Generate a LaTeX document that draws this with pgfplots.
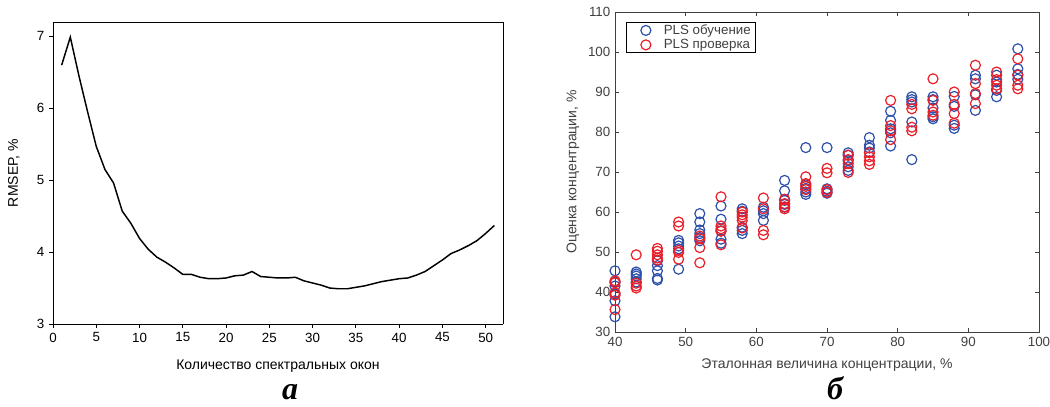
\documentclass[border=0pt]{standalone}
\usepackage{fontspec}
\setmainfont{Liberation Sans}
\newfontfamily\capfont{Liberation Serif}
\usepackage{pgfplots}
\pgfplotsset{compat=1.18}
\definecolor{plsblue}{RGB}{45,80,170}
\definecolor{plsred}{RGB}{235,30,40}
\definecolor{mgray}{RGB}{64,64,64}

\begin{document}
\begin{tikzpicture}[x=1pt,y=1pt]
\path[use as bounding box] (0,0) rectangle (787.5,305.25);

% --- panel a: RMSEP vs number of windows
\begin{axis}[
    at={(39.75pt,62.25pt)}, anchor=south west,
    scale only axis, width=337.5pt, height=226.5pt,
    xmin=0, xmax=52, ymin=3, ymax=7.2,
    xtick={0,5,...,50}, ytick={3,4,5,6,7},
    axis x line*=bottom, axis y line*=left,
    tick align=outside, major tick length=3pt,
    tick style={black, line width=0.6pt},
    axis line style={line width=0.6pt},
    every outer x axis line/.append style={-}, every outer y axis line/.append style={-},
    /pgf/number format/assume math mode=true,
    tick label style={font=\fontsize{10}{12}\selectfont},
    xlabel={Количество спектральных окон},
    ylabel={RMSEP, \%},
    label style={font=\fontsize{10.5}{12}\selectfont},
    xlabel style={at={(axis description cs:0.5,-0.141)}, anchor=center},
    ylabel style={at={(axis description cs:-0.087,0.5)}, anchor=center},
    clip=false,
]
\draw[line width=0.6pt] (rel axis cs:0,1) -- (rel axis cs:1,1) -- (rel axis cs:1,0);
\addplot[black, line width=1.1pt] coordinates {
 (1,6.60) (2,6.99) (3,6.45) (4,5.95) (5,5.47) (6,5.15) (7,4.96) (8,4.57)
 (9,4.40) (10,4.19) (11,4.04) (12,3.93) (13,3.86) (14,3.78) (15,3.69)
 (16,3.69) (17,3.65) (18,3.63) (19,3.63) (20,3.64) (21,3.67) (22,3.68)
 (23,3.73) (24,3.66) (25,3.65) (26,3.64) (27,3.64) (28,3.65) (29,3.60)
 (30,3.57) (31,3.54) (32,3.50) (33,3.49) (34,3.49) (35,3.51) (36,3.53)
 (37,3.56) (38,3.59) (39,3.61) (40,3.63) (41,3.64) (42,3.68) (43,3.73)
 (44,3.81) (45,3.89) (46,3.98) (47,4.03) (48,4.09) (49,4.16) (50,4.26)
 (51,4.37)};
\end{axis}

% --- panel b: predicted vs reference
\begin{axis}[
    at={(461.25pt,56.25pt)}, anchor=south west,
    scale only axis, width=318pt, height=240pt,
    xmin=40, xmax=100, ymin=30, ymax=110,
    xtick={40,50,...,100}, ytick={30,40,...,110},
    tick align=inside, major tick length=3pt,
    axis line style={mgray, line width=0.6pt},
    tick style={mgray, line width=0.6pt},
    /pgf/number format/assume math mode=true,
    tick label style={font=\fontsize{10}{12}\selectfont, text=mgray},
    xlabel={Эталонная величина концентрации, \%},
    ylabel={Оценка концентрации, \%},
    label style={font=\fontsize{10.5}{12}\selectfont, text=mgray},
    xlabel style={at={(axis description cs:0.5,-0.103)}, anchor=center},
    ylabel style={at={(axis description cs:-0.099,0.5)}, anchor=center},
    legend style={at={(axis description cs:0.026,0.969)}, anchor=north west,
        draw=black, line width=0.5pt, font=\fontsize{10}{12}\selectfont,
        inner sep=1.2pt, row sep=1.2pt, text=mgray,
        nodes={inner ysep=0.5pt, inner xsep=2pt},
        /tikz/every even column/.append style={column sep=0pt}},
    legend cell align=left,
    legend image code/.code={\path (-13pt,0pt) (11pt,0pt); \draw[#1] (0pt,0pt) circle (3.75pt);},
]
\addplot[only marks, mark=o, mark size=3.75pt, plsblue, line width=0.9pt] coordinates {
 (40,33.8) (40,37.8) (40,39.5) (40,41.5) (40,42.5) (40,45.3)
 (43,45.0) (43,44.5) (43,44.0) (43,43.3) (43,42.5)
 (46,43.0) (46,43.4) (46,45.3) (46,46.6) (46,47.8)
 (49,45.7) (49,50.8) (49,51.5) (49,52.3) (49,52.9)
 (52,59.6) (52,57.5) (52,55.5) (52,54.6) (52,53.6) (52,52.8)
 (55,61.5) (55,58.2) (55,55.3) (55,53.2) (55,52.2)
 (58,60.8) (58,60.2) (58,56.2) (58,55.4) (58,54.6)
 (61,61.2) (61,60.3) (61,59.6) (61,57.9)
 (64,67.9) (64,65.3) (64,62.9) (64,61.9) (64,61.2)
 (67,76.1) (67,66.8) (67,65.9) (67,65.0) (67,64.4)
 (70,76.1) (70,65.8) (70,65.2) (70,64.7)
 (73,74.8) (73,74.2) (73,72.8) (73,71.3) (73,70.4)
 (76,78.6) (76,76.7) (76,76.0) (76,75.0)
 (79,85.2) (79,82.9) (79,80.8) (79,79.8) (79,76.5)
 (82,88.8) (82,88.1) (82,87.5) (82,82.5) (82,73.1)
 (85,88.8) (85,88.1) (85,86.0) (85,83.8) (85,83.3)
 (88,88.9) (88,86.4) (88,81.7) (88,80.9)
 (91,94.2) (91,93.3) (91,89.3) (91,85.4)
 (94,94.2) (94,92.5) (94,90.4) (94,88.8)
 (97,100.8) (97,95.8) (97,94.4) (97,93.2)};
\addlegendentry{PLS обучение}
\addplot[only marks, mark=o, mark size=3.75pt, plsred, line width=0.9pt] coordinates {
 (40,35.6) (40,39.2) (40,39.8) (40,42.3) (40,42.8)
 (43,49.3) (43,42.2) (43,41.5) (43,41.0)
 (46,50.9) (46,50.2) (46,49.3) (46,48.5) (46,48.0)
 (49,57.5) (49,56.5) (49,50.4) (49,49.9) (49,48.2)
 (52,54.0) (52,53.3) (52,51.1) (52,47.3)
 (55,63.8) (55,56.5) (55,55.8) (55,55.2) (55,51.8)
 (58,60.0) (58,59.3) (58,58.7) (58,57.9) (58,56.0)
 (61,63.5) (61,60.8) (61,55.4) (61,54.3)
 (64,63.2) (64,62.1) (64,61.3) (64,60.8)
 (67,68.8) (67,67.1) (67,66.4) (67,65.6)
 (70,70.9) (70,69.8) (70,65.6) (70,64.9)
 (73,74.2) (73,73.1) (73,72.1) (73,69.9)
 (76,74.8) (76,73.8) (76,72.8) (76,71.9)
 (79,87.9) (79,81.6) (79,80.3) (79,78.1)
 (82,86.9) (82,85.8) (82,81.2) (82,80.3)
 (85,93.3) (85,87.9) (85,85.0) (85,84.2)
 (88,90.0) (88,86.9) (88,84.6) (88,82.2)
 (91,96.7) (91,92.1) (91,89.6) (91,87.1)
 (94,95.0) (94,93.1) (94,91.7) (94,90.8)
 (97,98.3) (97,94.2) (97,91.7) (97,90.8)};
\addlegendentry{PLS проверка}
\end{axis}

\node[anchor=base, inner sep=0pt] at (217.5,5.5) {\capfont\bfseries\itshape\fontsize{24}{26}\selectfont а};
\node[anchor=base, inner sep=0pt] at (626.25,5.5) {\capfont\bfseries\itshape\fontsize{24}{26}\selectfont б};
\end{tikzpicture}
\end{document}
